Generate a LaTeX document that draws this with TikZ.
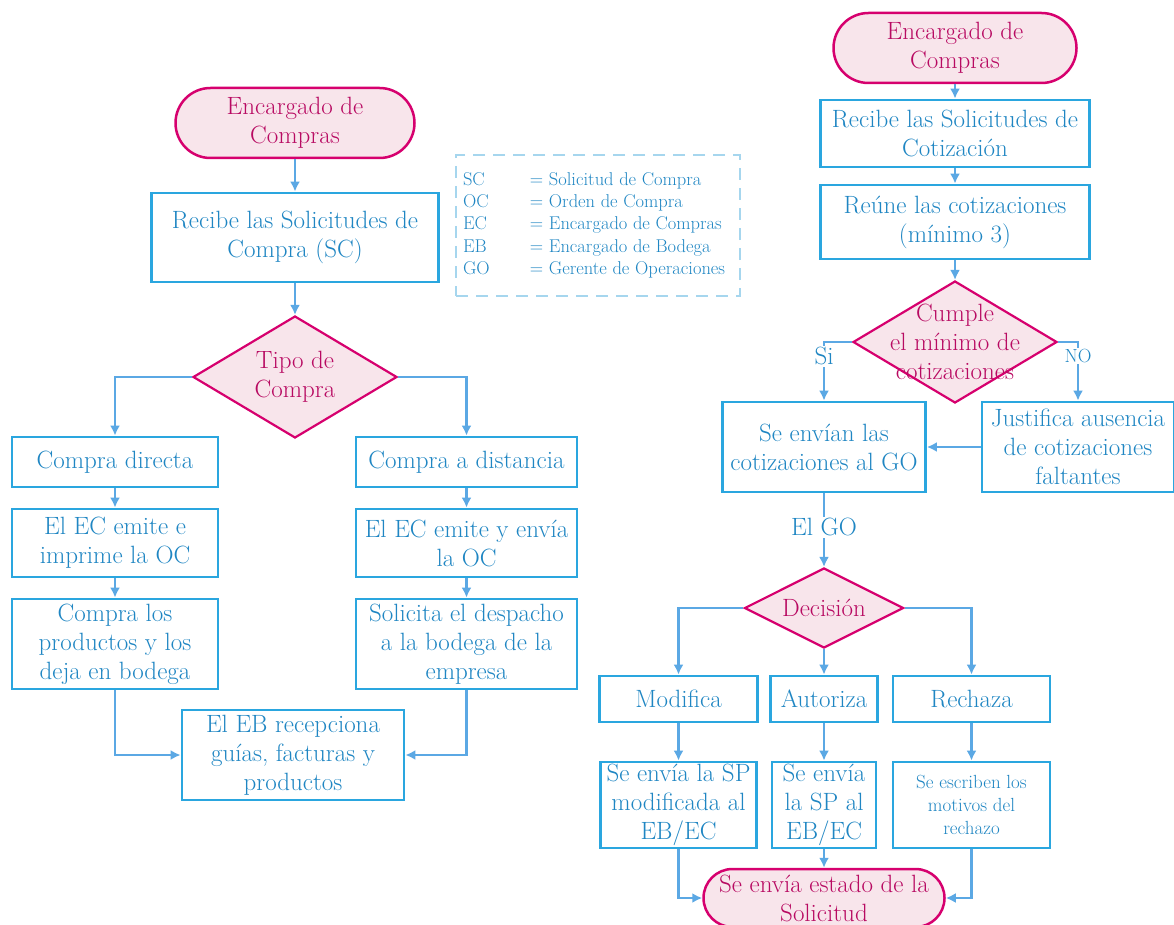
\documentclass[tikz,border=0pt]{standalone}
\usepackage{tikz}
\usetikzlibrary{arrows.meta,shapes,positioning,calc}

\definecolor{bordeazul}{HTML}{2AA6DF}
\definecolor{textoazul}{HTML}{1F86C3}
\definecolor{flechaazul}{HTML}{5BA8E4}
\definecolor{guiazul}{HTML}{A6D6EE}
\definecolor{bordemag}{HTML}{D6006E}
\definecolor{rosa}{HTML}{F8E5EB}
\definecolor{textomag}{HTML}{B80A62}

\begin{document}
\begin{tikzpicture}[x=1pt,y=-1pt,
	font=\fontsize{25}{29}\selectfont,
	caja/.style={draw=bordeazul, line width=2.8pt, fill=white, text=textoazul, align=center, inner sep=1pt},
	termino/.style={draw=bordemag, line width=2.5pt, fill=rosa, text=textomag, align=center, inner sep=1pt},
	rombo/.style={diamond, draw=bordemag, line width=2.2pt, fill=rosa, inner sep=0pt},
	rombotexto/.style={text=textomag, align=center},
	flecha/.style={-{Latex[length=10pt,width=10pt]}, draw=flechaazul, line width=2.3pt},
	etiq/.style={fill=white, text=textoazul, inner sep=1.5pt}]

		\useasboundingbox (0,0) rectangle (1174,925);

		% lado izquierdo
		\node[termino, rounded corners=35pt, minimum width=239pt, minimum height=70pt] (EC1) at (295, 123) {Encargado de\\Compras};
		\node[caja, minimum width=287pt, minimum height=89pt] (RSC) at (295, 237.5) {Recibe las Solicitudes de\\Compra (SC)};
		\node[rombo, minimum width=204pt, minimum height=122pt, label={[rombotexto]center:Tipo de\\Compra}] (TC) at (295, 377) {};
		\node[caja, minimum width=206pt, minimum height=50pt] (CD) at (115, 462) {Compra directa};
		\node[caja, minimum width=221pt, minimum height=50pt] (CAD) at (466.5, 462) {Compra a distancia};
		\node[caja, minimum width=206pt, minimum height=68pt] (EEI) at (115, 543) {El EC emite e\\imprime la OC};
		\node[caja, minimum width=221pt, minimum height=68pt] (EEE) at (466.5, 543) {El EC emite y env\'ia\\la OC};
		\node[caja, minimum width=206pt, minimum height=90pt] (CP) at (115, 644) {Compra los\\productos y los\\deja en bodega};
		\node[caja, minimum width=221pt, minimum height=90pt] (SD) at (466.5, 644) {Solicita el despacho\\a la bodega de la\\empresa};
		\node[caja, minimum width=222pt, minimum height=90pt] (REB) at (293, 755) {El EB recepciona\\gu\'ias, facturas y\\productos};

		% glosario
		\node[draw=guiazul, line width=2.5pt, dashed, dash pattern=on 12pt off 8pt, text=textoazul, minimum width=284pt, minimum height=141pt,
			inner sep=0pt, font=\fontsize{18.5}{22.2}\selectfont] (GL) at (598, 225.5) {%
			\begin{tabular}{@{}p{67pt}@{}p{203pt}@{}}
				SC & = Solicitud de Compra\\
				OC & = Orden de Compra\\
				EC & = Encargado de Compras\\
				EB & = Encargado de Bodega\\
				GO & = Gerente de Operaciones
			\end{tabular}};

		\draw[flecha] (EC1) -- (RSC);
		\draw[flecha] (RSC) -- (TC);
		\draw[flecha] (TC.west) -| (CD.north);
		\draw[flecha] (TC.east) -| (CAD.north);
		\draw[flecha] (CD) -- (EEI);
		\draw[flecha] (CAD) -- (EEE);
		\draw[flecha] (EEI) -- (CP);
		\draw[flecha] (EEE) -- (SD);
		\draw[flecha] (CP.south) |- (REB.west);
		\draw[flecha] (SD.south) |- (REB.east);

		% lado derecho
		\node[termino, rounded corners=35pt, minimum width=243pt, minimum height=70pt] (EC2) at (955, 48) {Encargado de\\Compras};
		\node[caja, minimum width=269pt, minimum height=67pt] (RCot) at (955, 133.5) {Recibe las Solicitudes de\\Cotizaci\'on};
		\node[caja, minimum width=269pt, minimum height=74pt] (RC) at (955, 222) {Re\'une las cotizaciones\\(m\'inimo 3)};
		\node[rombo, minimum width=204pt, minimum height=122pt, label={[rombotexto]center:Cumple\\el m\'inimo de\\cotizaciones}] (CM) at (955, 342) {};
		\node[caja, minimum width=203pt, minimum height=90pt] (SEC) at (824, 447) {Se env\'ian las\\cotizaciones al GO};
		\node[caja, minimum width=192pt, minimum height=90pt] (JA) at (1078, 447) {Justifica ausencia\\de cotizaciones\\faltantes};
		\node[rombo, minimum width=159pt, minimum height=80pt, label={[rombotexto]center:Decisi\'on}] (DE) at (824, 608) {};
		\node[caja, minimum width=158pt, minimum height=46pt] (MO) at (678.5, 699) {Modifica};
		\node[caja, minimum width=107pt, minimum height=46pt] (AU) at (824, 699) {Autoriza};
		\node[caja, minimum width=157pt, minimum height=46pt] (RE) at (971.5, 699) {Rechaza};
		\node[caja, minimum width=156pt, minimum height=86pt] (SPM) at (678.5, 805) {Se env\'ia la SP\\modificada al\\EB/EC};
		\node[caja, minimum width=104pt, minimum height=86pt] (SPA) at (824, 805) {Se env\'ia\\la SP al\\EB/EC};
		\node[caja, minimum width=157pt, minimum height=86pt, font=\fontsize{19}{23}\selectfont] (MR) at (971.5, 805) {Se escriben los\\motivos del\\rechazo};
		\node[termino, rounded corners=29pt, minimum width=241pt, minimum height=58pt] (EST) at (824, 898) {Se env\'ia estado de la\\Solicitud};

		\draw[flecha] (EC2) -- (RCot);
		\draw[flecha] (RCot) -- (RC);
		\draw[flecha] (RC) -- (CM);
		\draw[flecha] (CM.west) -| node[etiq, pos=0.62] {Si} (SEC.north);
		\draw[flecha] (CM.east) -| node[etiq, pos=0.62, font=\fontsize{19}{22}\selectfont] {NO} (JA.north);
		\draw[flecha] (JA) -- (SEC);
		\draw[flecha] (SEC) -- node[etiq, pos=0.46] {El GO} (DE);
		\draw[flecha] (DE.west) -| (MO.north);
		\draw[flecha] (DE) -- (AU);
		\draw[flecha] (DE.east) -| (RE.north);
		\draw[flecha] (MO) -- (SPM);
		\draw[flecha] (AU) -- (SPA);
		\draw[flecha] (RE) -- (MR);
		\draw[flecha] (SPM.south) |- (EST.west);
		\draw[flecha] (SPA) -- (EST);
		\draw[flecha] (MR.south) |- (EST.east);
	\end{tikzpicture}
\end{document}
